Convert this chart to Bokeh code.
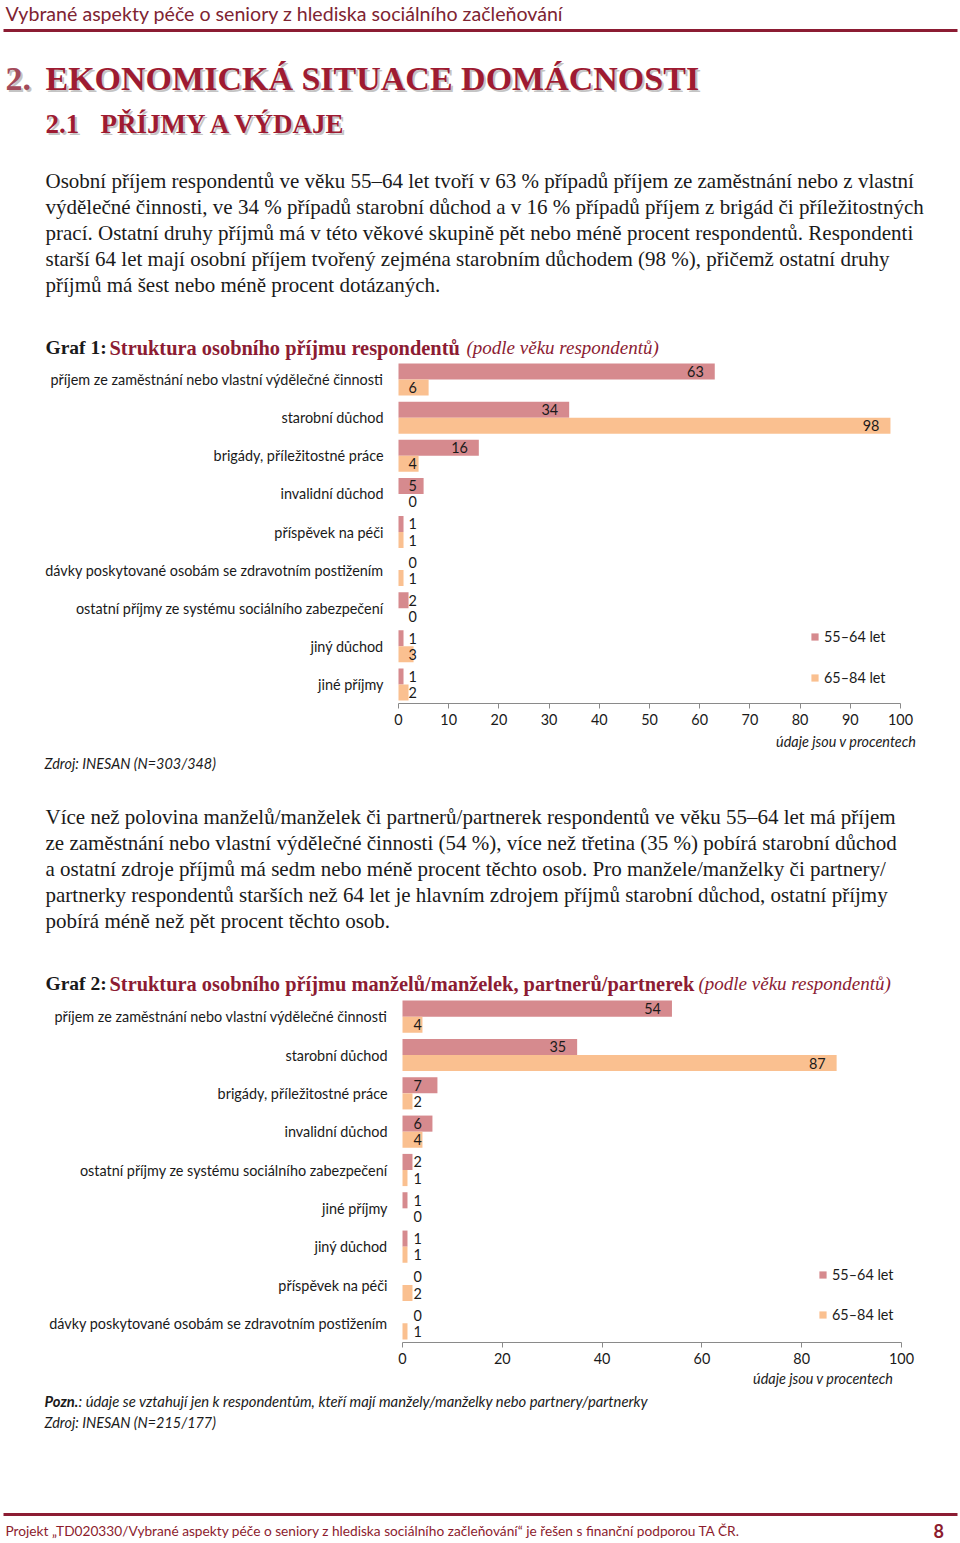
from bokeh.plotting import figure
from bokeh.models import (Range1d, FactorRange, ColumnDataSource, Legend, LegendItem,
                          FixedTicker)
from bokeh.layouts import column
from bokeh.transform import dodge
from bokeh.core.properties import value
from bokeh.embed import file_html
from bokeh.resources import INLINE

# ---------------- data ----------------
series_names = ["55–64 let", "65–84 let"]

g1_categories = [
    "příjem ze zaměstnání nebo vlastní výdělečné činnosti",
    "starobní důchod",
    "brigády, příležitostné práce",
    "invalidní důchod",
    "příspěvek na péči",
    "dávky poskytované osobám se zdravotním postižením",
    "ostatní příjmy ze systému sociálního zabezpečení",
    "jiný důchod",
    "jiné příjmy",
]
g1_55_64 = [63, 34, 16, 5, 1, 0, 2, 1, 1]
g1_65_84 = [6, 98, 4, 0, 1, 1, 0, 3, 2]
g1_ticks = [0, 10, 20, 30, 40, 50, 60, 70, 80, 90, 100]

g2_categories = [
    "příjem ze zaměstnání nebo vlastní výdělečné činnosti",
    "starobní důchod",
    "brigády, příležitostné práce",
    "invalidní důchod",
    "ostatní příjmy ze systému sociálního zabezpečení",
    "jiné příjmy",
    "jiný důchod",
    "příspěvek na péči",
    "dávky poskytované osobám se zdravotním postižením",
]
g2_55_64 = [54, 35, 7, 6, 2, 1, 1, 0, 0]
g2_65_84 = [4, 87, 2, 4, 1, 0, 1, 2, 1]
g2_ticks = [0, 20, 40, 60, 80, 100]

para1 = [
    "Osobní příjem respondentů ve věku 55–64 let tvoří v 63 % případů příjem ze zaměstnání nebo z vlastní",
    "výdělečné činnosti, ve 34 % případů starobní důchod a v 16 % případů příjem z brigád či příležitostných",
    "prací. Ostatní druhy příjmů má v této věkové skupině pět nebo méně procent respondentů. Respondenti",
    "starší 64 let mají osobní příjem tvořený zejména starobním důchodem (98 %), přičemž ostatní druhy",
    "příjmů má šest nebo méně procent dotázaných.",
]
para2 = [
    "Více než polovina manželů/manželek či partnerů/partnerek respondentů ve věku 55–64 let má příjem",
    "ze zaměstnání nebo vlastní výdělečné činnosti (54 %), více než třetina (35 %) pobírá starobní důchod",
    "a ostatní zdroje příjmů má sedm nebo méně procent těchto osob. Pro manžele/manželky či partnery/",
    "partnerky respondentů starších než 64 let je hlavním zdrojem příjmů starobní důchod, ostatní příjmy",
    "pobírá méně než pět procent těchto osob.",
]

# ---------------- styles ----------------
C1 = "#D68A8E"
C2 = "#FAC090"
MAROON = "#8C1C33"
HEAD = "#9E1B32"
INK = "#1a1a1a"
SERIF = "Liberation Serif"
SANS = "Lato"
W = 960
BODY = "21px"


def text_fig(top, bottom):
    f = figure(width=W, height=bottom - top, x_range=Range1d(0, W),
               y_range=Range1d(bottom, top), x_axis_type=None, y_axis_type=None,
               output_backend="svg", toolbar_location=None, min_border=0)
    f.grid.visible = False
    f.outline_line_color = None
    return f


def put(f, x, y, s, font=SERIF, size="19px", color=INK, style="normal",
        align="left"):
    f.text(x=[x], y=[y], text=[s], text_font=value(font), text_font_size=size,
           text_color=color, text_font_style=style, text_align=align,
           text_baseline="middle")


def chart(cats, v1, v2, ticks, height, px0, px100, border_bottom, legend_loc,
          legend_spacing, small_off):
    scale = (px100 - px0) / 100.0
    xr = Range1d(-px0 / scale, (W - px0) / scale)
    p = figure(width=W, height=height, y_range=FactorRange(*reversed(cats)),
               x_range=xr, output_backend="svg", toolbar_location=None,
               y_axis_location=None, min_border=0, min_border_bottom=border_bottom)
    p.y_range.range_padding = 0
    p.grid.visible = False
    p.outline_line_color = None
    src = ColumnDataSource(dict(cat=cats, a=v1, b=v2, zero=[0] * len(cats)))
    r1 = p.hbar(y=dodge("cat", 0.21, range=p.y_range), right="a", left=0, height=0.42,
                fill_color=C1, line_color=None, source=src)
    r2 = p.hbar(y=dodge("cat", -0.21, range=p.y_range), right="b", left=0, height=0.42,
                fill_color=C2, line_color=None, source=src)
    # category labels
    p.text(x="zero", y="cat", text="cat", source=src, x_offset=-15, text_align="right",
           text_baseline="middle", text_font=value(SANS), text_font_size="14.4px",
           text_color=INK)
    # value labels
    for vals, d in ((v1, 0.21), (v2, -0.21)):
        big = [i for i, v in enumerate(vals) if v >= 10]
        small = [i for i, v in enumerate(vals) if v < 10]
        sb = ColumnDataSource(dict(cat=[cats[i] for i in big], x=[vals[i] for i in big],
                                   t=[str(vals[i]) for i in big]))
        ss = ColumnDataSource(dict(cat=[cats[i] for i in small], x=[0 for i in small],
                                   t=[str(vals[i]) for i in small]))
        p.text(x="x", y=dodge("cat", d, range=p.y_range), text="t", source=sb,
               text_align="right", text_baseline="middle", x_offset=-11,
               text_font=value(SANS), text_font_size="14.4px", text_color=INK)
        p.text(x="x", y=dodge("cat", d, range=p.y_range), text="t", source=ss,
               text_align="left", text_baseline="middle", x_offset=small_off,
               text_font=value(SANS), text_font_size="14.4px", text_color=INK)
    xa = p.xaxis[0]
    xa.bounds = (0, 100)
    xa.ticker = FixedTicker(ticks=ticks)
    xa.axis_line_color = "#8a8a8a"
    xa.major_tick_line_color = "#8a8a8a"
    xa.minor_tick_line_color = None
    xa.major_tick_out = 5
    xa.major_tick_in = 0
    xa.major_label_standoff = 5
    xa.major_label_text_font = SANS
    xa.major_label_text_font_size = "14.4px"
    xa.major_label_text_color = INK
    leg = Legend(items=[LegendItem(label=series_names[0], renderers=[r1]),
                        LegendItem(label=series_names[1], renderers=[r2])],
                 location=legend_loc, orientation="vertical", padding=0, margin=0,
                 spacing=legend_spacing, glyph_width=9, glyph_height=9, label_standoff=5,
                 label_height=20, label_text_font=SANS, label_text_font_size="14.4px",
                 label_text_color=INK, border_line_color=None,
                 background_fill_alpha=0)
    p.add_layout(leg)
    return p


# ---------------- part 1: header + paragraph + title ----------------
f1 = text_fig(0, 360)
put(f1, 5, 13, "Vybrané aspekty péče o seniory z hlediska sociálního začleňování",
    font=SANS, size="19.6px", color="#7E2432")
f1.segment(x0=[3], y0=[30], x1=[957], y1=[30], line_color=MAROON, line_width=3)
for dx, col in ((2, "#c4c4c4"), (0, None)):
    c = col or HEAD
    put(f1, 5 + dx, 78 + dx, "2.", size="34px", color=col or "#A34A5A", style="bold")
    put(f1, 45 + dx, 78 + dx, "EKONOMICKÁ SITUACE DOMÁCNOSTI", size="34px", color=c,
        style="bold")
    put(f1, 45 + dx, 123 + dx, "2.1", size="27px", color=c, style="bold")
    put(f1, 100 + dx, 123 + dx, "PŘÍJMY A VÝDAJE", size="27px", color=c, style="bold")
for i, line in enumerate(para1):
    put(f1, 45, 180 + 26 * i, line, size=BODY)
put(f1, 45, 347, "Graf 1:", size="19.5px", color=INK, style="bold")
put(f1, 109, 347, "Struktura osobního příjmu respondentů", size="20.4px", color=MAROON,
    style="bold")
put(f1, 466, 347, "(podle věku respondentů)", size="19px", color=MAROON, style="italic")

# ---------------- chart 1 ----------------
p1 = chart(g1_categories, g1_55_64, g1_65_84, g1_ticks, 372, 398, 900, 29,
           (810, 16), 21, 10)

# ---------------- part 3 ----------------
f3 = text_fig(732, 997)
put(f3, 916, 741, "údaje jsou v procentech", font=SANS, size="14.4px", style="italic",
    align="right")
put(f3, 44, 763, "Zdroj: INESAN (N=303/348)", font=SANS, size="14.4px", style="italic")
for i, line in enumerate(para2):
    put(f3, 45, 816 + 26 * i, line, size=BODY)
put(f3, 45, 983, "Graf 2:", size="19.5px", color=INK, style="bold")
put(f3, 109, 983, "Struktura osobního příjmu manželů/manželek, partnerů/partnerek",
    size="20.4px", color=MAROON, style="bold")
put(f3, 698, 983, "(podle věku respondentů)", size="19px", color=MAROON, style="italic")

# ---------------- chart 2 ----------------
p2 = chart(g2_categories, g2_55_64, g2_65_84, g2_ticks, 373, 402, 901, 28,
           (818, 18), 20, 11)

# ---------------- part 5 ----------------
f5 = text_fig(1370, 1540)
put(f5, 893, 1378, "údaje jsou v procentech", font=SANS, size="14.4px", style="italic",
    align="right")
put(f5, 44, 1400, "Pozn.", font=SANS, size="14.8px", style="bold italic")
put(f5, 78, 1400, ": údaje se vztahují jen k respondentům, kteří mají manžely/manželky nebo partnery/partnerky",
    font=SANS, size="14.8px", style="italic")
put(f5, 44, 1422, "Zdroj: INESAN (N=215/177)", font=SANS, size="14.4px", style="italic")
f5.segment(x0=[3], y0=[1514], x1=[957], y1=[1514], line_color=MAROON, line_width=3)
put(f5, 5, 1530,
    "Projekt „TD020330/Vybrané aspekty péče o seniory z hlediska sociálního začleňování“ je řešen s finanční podporou TA ČR.",
    font=SANS, size="13.7px", color="#8C1C2E")
put(f5, 933, 1530, "8", font=SANS, size="18px", color="#8C1C2E", style="bold")

layout = column(f1, p1, f3, p2, f5, spacing=0)
open("out.html", "w").write(file_html(layout, INLINE))
